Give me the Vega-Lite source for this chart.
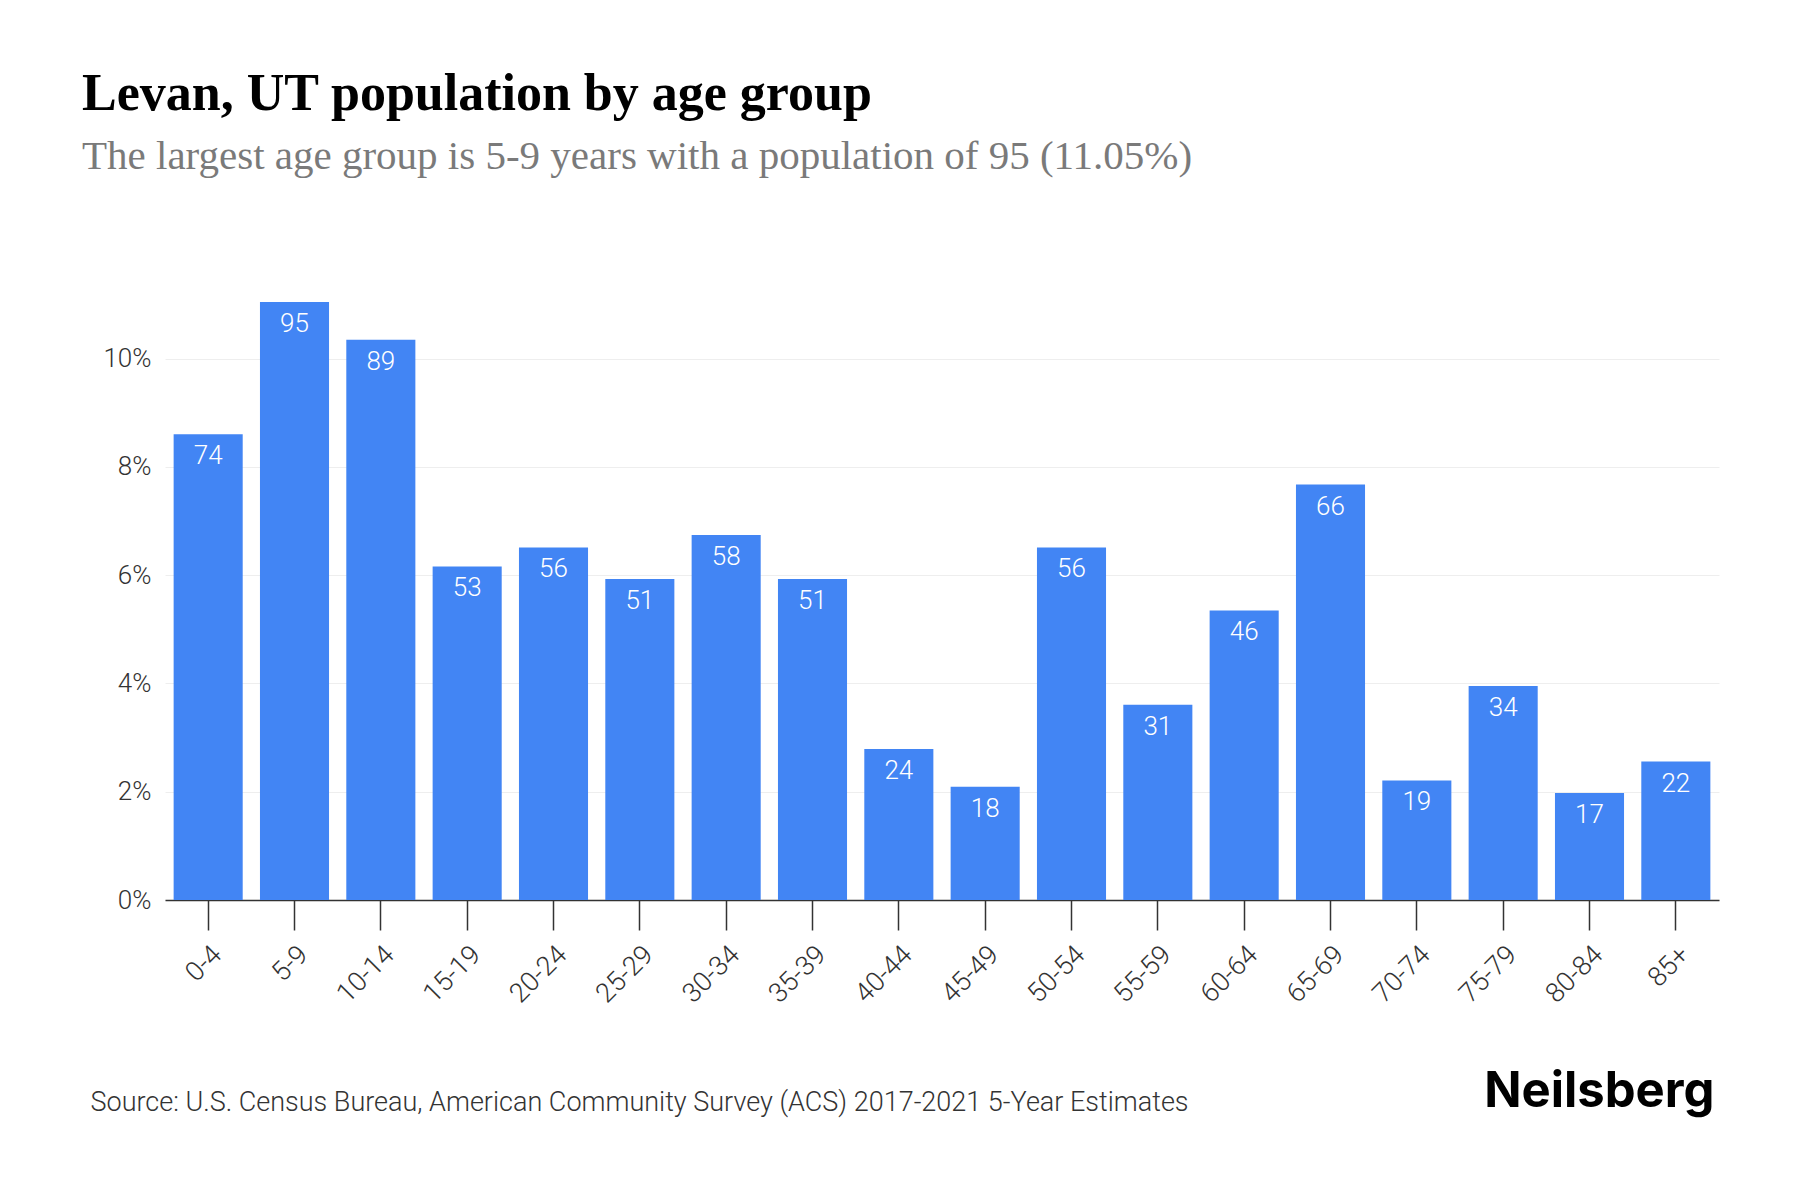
{
  "$schema": "https://vega.github.io/schema/vega-lite/v6.json",
  "width": 1554,
  "height": 598,
  "autosize": {"type": "none"},
  "padding": {"left": 165, "top": 302, "right": 81, "bottom": 300},
  "background": "white",
  "title": {
    "text": "Levan, UT population by age group",
    "subtitle": "The largest age group is 5-9 years with a population of 95 (11.05%)",
    "anchor": "start",
    "frame": "group",
    "dx": -83,
    "offset": 124,
    "font": "Liberation Serif",
    "fontSize": 52,
    "fontWeight": "bold",
    "color": "#000000",
    "subtitleFont": "Liberation Serif",
    "subtitleFontSize": 41,
    "subtitleColor": "#7a7a7a",
    "subtitlePadding": 16
  },
  "data": {
    "values": [
      {"age": "0-4", "population": 74, "share": 0.086047},
      {"age": "5-9", "population": 95, "share": 0.110465},
      {"age": "10-14", "population": 89, "share": 0.103488},
      {"age": "15-19", "population": 53, "share": 0.061628},
      {"age": "20-24", "population": 56, "share": 0.065116},
      {"age": "25-29", "population": 51, "share": 0.059302},
      {"age": "30-34", "population": 58, "share": 0.067442},
      {"age": "35-39", "population": 51, "share": 0.059302},
      {"age": "40-44", "population": 24, "share": 0.027907},
      {"age": "45-49", "population": 18, "share": 0.02093},
      {"age": "50-54", "population": 56, "share": 0.065116},
      {"age": "55-59", "population": 31, "share": 0.036047},
      {"age": "60-64", "population": 46, "share": 0.053488},
      {"age": "65-69", "population": 66, "share": 0.076744},
      {"age": "70-74", "population": 19, "share": 0.022093},
      {"age": "75-79", "population": 34, "share": 0.039535},
      {"age": "80-84", "population": 17, "share": 0.019767},
      {"age": "85+", "population": 22, "share": 0.025581}
    ]
  },
  "encoding": {
    "x": {
      "field": "age",
      "type": "nominal",
      "sort": null,
      "scale": {"paddingInner": 0.2, "paddingOuter": 0.1},
      "axis": {
        "title": "Source: U.S. Census Bureau, American Community Survey (ACS) 2017-2021 5-Year Estimates",
        "titleX": -75,
        "titleY": 210,
        "titleAlign": "left",
        "titleAnchor": null,
        "titleBaseline": "alphabetic",
        "titleFont": "Roboto",
        "titleFontSize": 27,
        "titleFontWeight": 300,
        "titleColor": "#333333",
        "labelAngle": -45,
        "labelFont": "Roboto",
        "labelFontSize": 27,
        "labelFontWeight": 300,
        "labelColor": "#333333",
        "labelPadding": 11,
        "tickSize": 30,
        "tickColor": "#333333",
        "tickWidth": 1.5,
        "domainColor": "#333333",
        "domainWidth": 1.5,
        "grid": false
      }
    },
    "y": {
      "field": "share",
      "type": "quantitative",
      "scale": {"domain": [0, 0.110465], "nice": false},
      "axis": {
        "values": [0, 0.02, 0.04, 0.06, 0.08, 0.1],
        "format": ".0%",
        "title": "Neilsberg",
        "titleAngle": 0,
        "titleX": 1549,
        "titleY": 804,
        "titleAlign": "right",
        "titleAnchor": null,
        "titleBaseline": "alphabetic",
        "titleFont": "Inter",
        "titleFontSize": 49,
        "titleFontWeight": "bold",
        "titleColor": "#000000",
        "labelFont": "Roboto",
        "labelFontSize": 26,
        "labelFontWeight": 300,
        "labelColor": "#333333",
        "labelPadding": 14,
        "ticks": false,
        "domain": false,
        "grid": true,
        "gridColor": "#eeeeee",
        "gridWidth": 1
      }
    }
  },
  "layer": [
    {"mark": {"type": "bar", "color": "#4285F4"}},
    {
      "mark": {
        "type": "text",
        "color": "#ffffff",
        "baseline": "top",
        "dy": 9,
        "font": "Roboto",
        "fontSize": 26,
        "fontWeight": 300
      },
      "encoding": {"text": {"field": "population", "type": "quantitative"}}
    }
  ],
  "config": {"view": {"stroke": null}}
}
